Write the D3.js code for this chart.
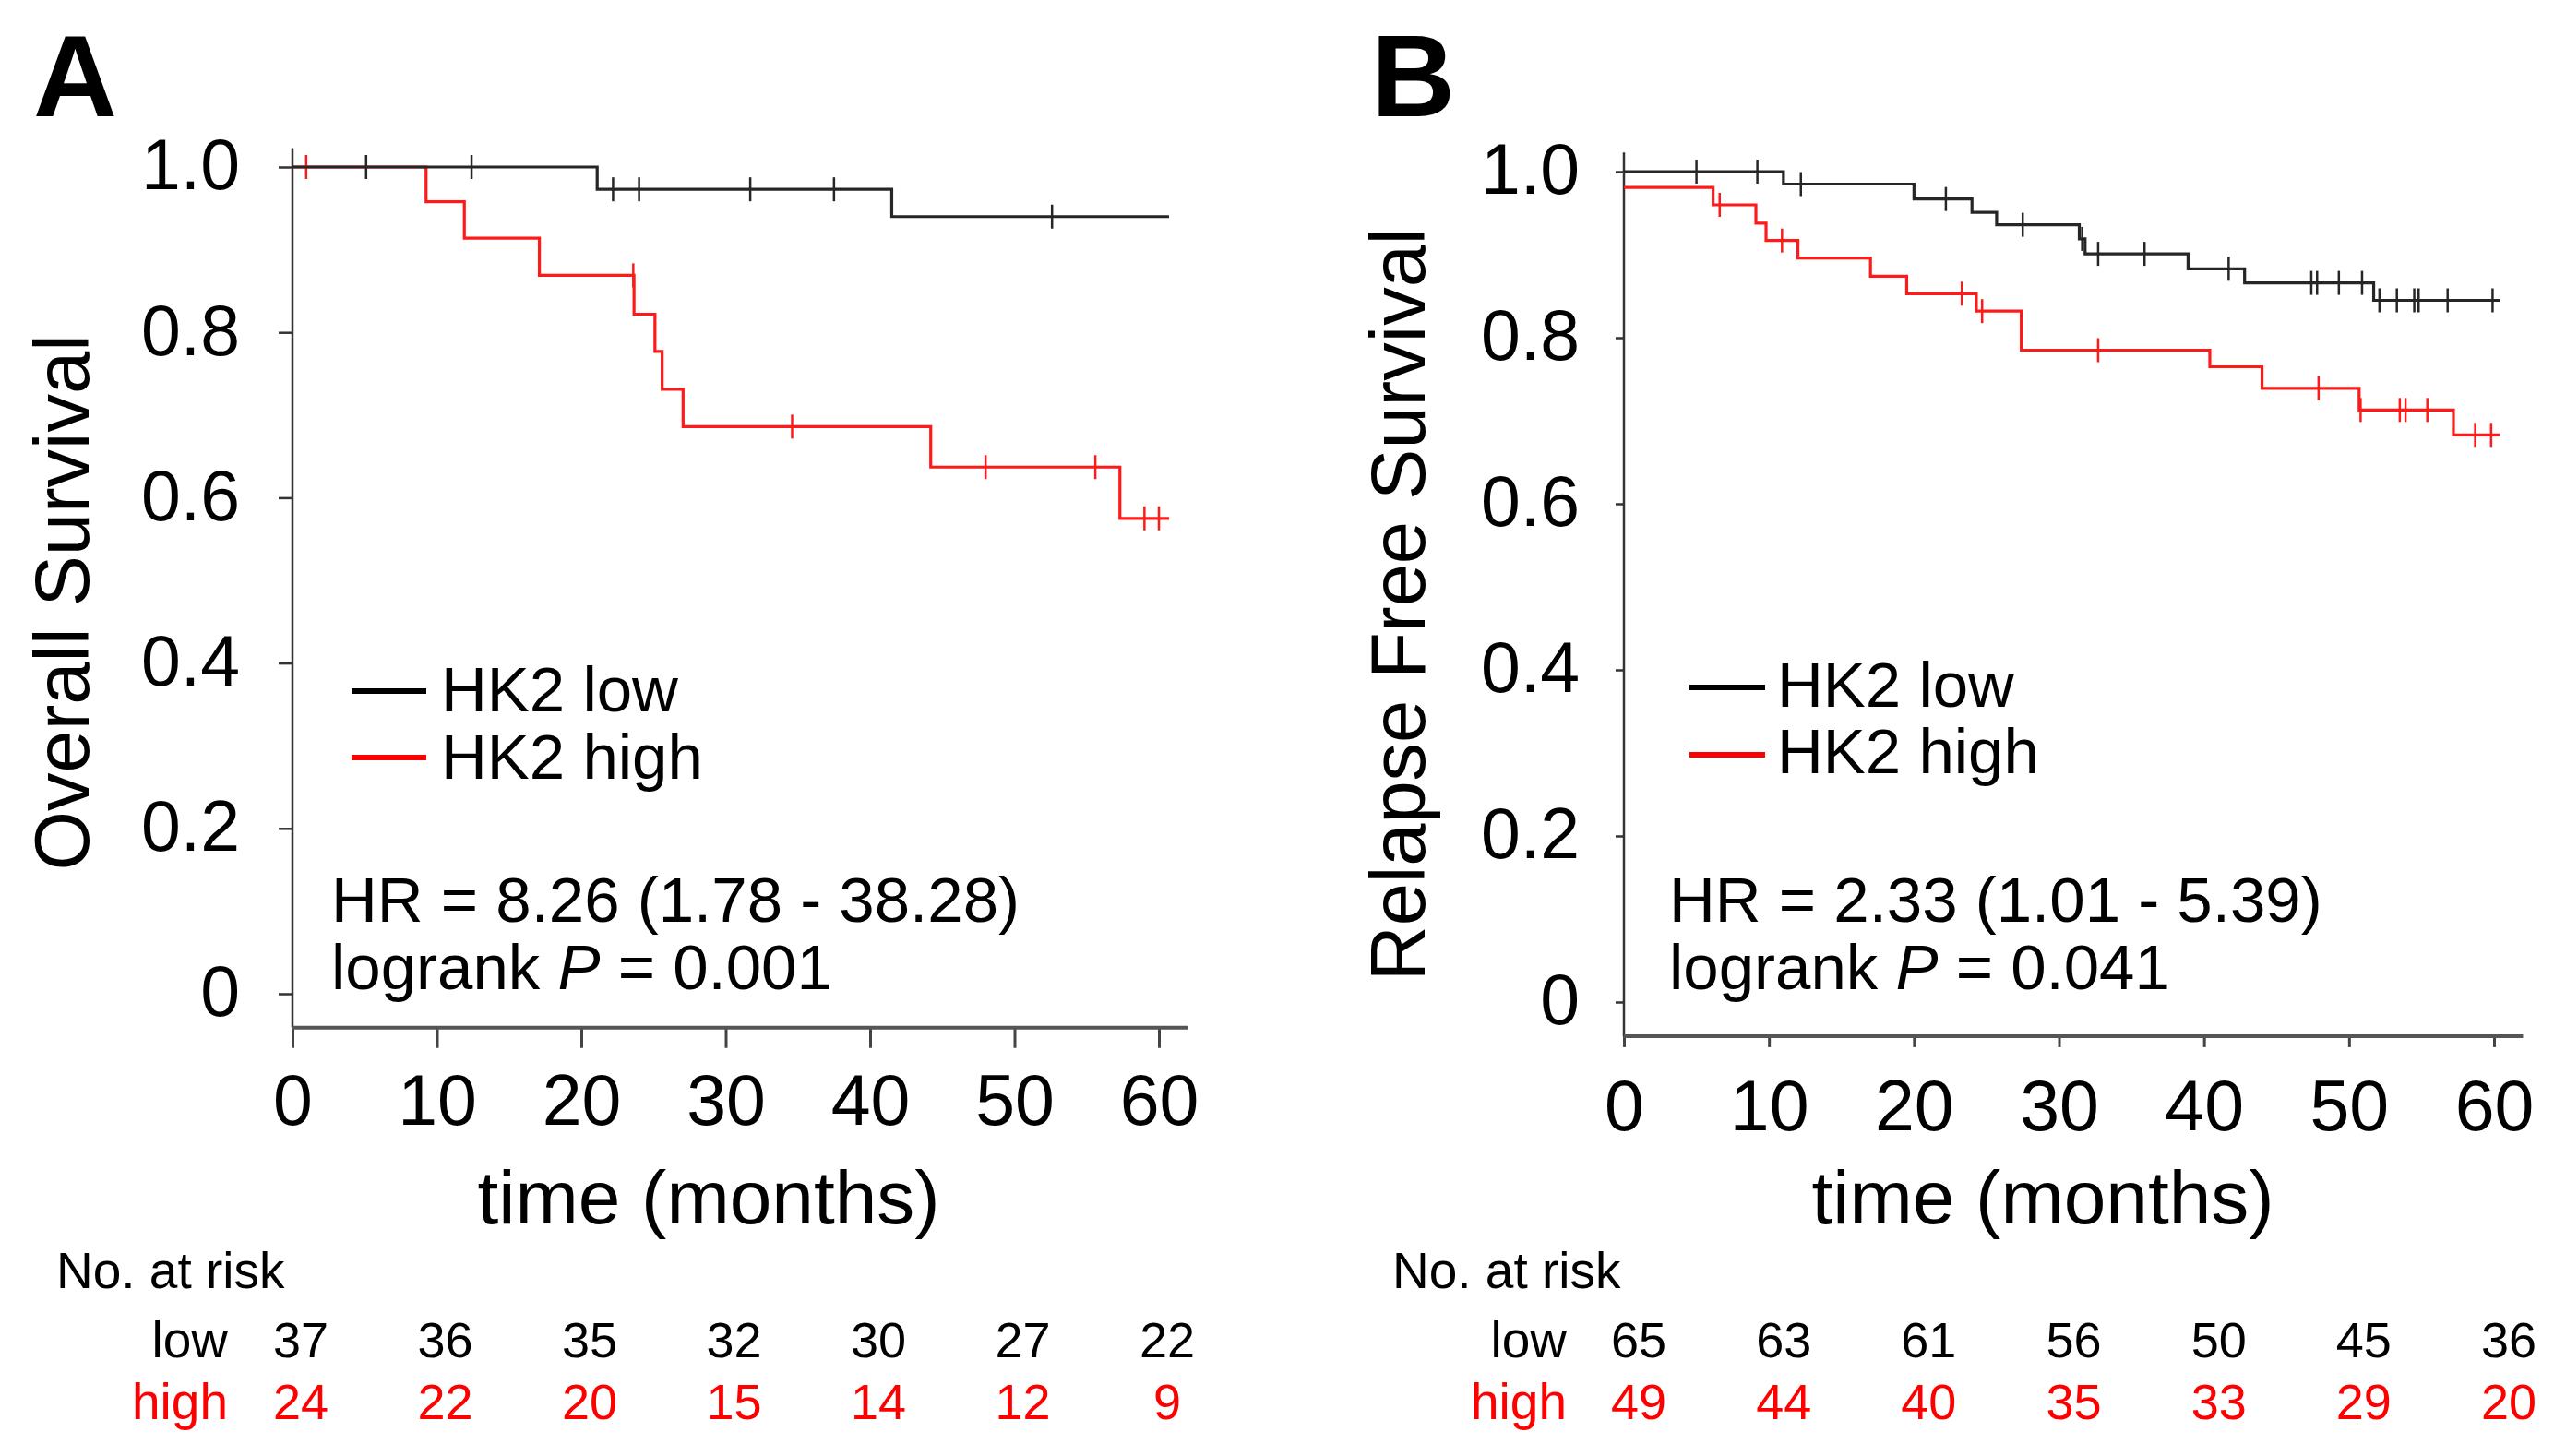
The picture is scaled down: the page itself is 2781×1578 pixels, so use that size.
<!DOCTYPE html>
<html><head><meta charset="utf-8">
<script src="https://cdn.jsdelivr.net/npm/d3@7"></script>
<style>
html,body{margin:0;padding:0;background:#fff;}
svg{display:block;}
text{font-family:"Liberation Sans",Arial,sans-serif;}
</style>
</head><body>
<svg id="chart" width="2781" height="1578"></svg>
<script>
// ---------- data ----------
const timeTicks = [0, 10, 20, 30, 40, 50, 60];
const survTicks = [0, 0.2, 0.4, 0.6, 0.8, 1.0];
const survTickLabels = ["0", "0.2", "0.4", "0.6", "0.8", "1.0"];
const riskTimes = [0, 10, 20, 30, 40, 50, 60];
const seriesNames = ["HK2 low", "HK2 high"];
const riskRowLabels = ["low", "high"];

// Panel A: Overall Survival
const osLowStepTimes = [0, 21.1, 41.5];
const osLowStepSurv  = [1, 0.973, 0.940];
const osLowCensor    = [5.1, 12.4, 22.2, 24.0, 31.7, 37.5, 52.6];
const osLowEnd = 60.7;
const osHighStepTimes = [0, 9.25, 11.9, 17.1, 23.65, 25.1, 25.6, 27.05, 44.2, 57.3];
const osHighStepSurv  = [1, 0.958, 0.914, 0.869, 0.822, 0.777, 0.731, 0.686, 0.637, 0.575];
const osHighCensor    = [0.95, 23.6, 34.6, 48.0, 55.6, 59.0, 60.0];
const osHighEnd = 60.7;
const osRiskLow  = [37, 36, 35, 32, 30, 27, 22];
const osRiskHigh = [24, 22, 20, 15, 14, 12, 9];
const osStats = ["HR = 8.26 (1.78 - 38.28)", "0.001"];

// Panel B: Relapse Free Survival
const rfsLowStepTimes = [0, 11.0, 20.0, 24.0, 25.7, 31.4, 31.8, 38.9, 42.8, 51.7];
const rfsLowStepSurv  = [1, 0.985, 0.967, 0.951, 0.936, 0.919, 0.901, 0.883, 0.866, 0.845];
const rfsLowCensor    = [5.0, 9.2, 12.2, 22.2, 27.5, 31.6, 32.7, 35.9, 41.7, 47.4, 47.8, 49.3, 50.9, 52.1, 53.3, 54.5, 54.8, 56.8, 59.9];
const rfsLowEnd = 60.4;
const rfsHighStepTimes = [0, 6.15, 9.1, 9.8, 12.0, 17.0, 19.5, 24.3, 27.4, 40.4, 44.0, 50.7, 57.2];
const rfsHighStepSurv  = [0.981, 0.960, 0.938, 0.917, 0.896, 0.874, 0.853, 0.832, 0.785, 0.765, 0.739, 0.713, 0.683];
const rfsHighCensor    = [6.6, 10.9, 23.3, 24.7, 32.7, 47.9, 50.8, 53.5, 53.9, 55.4, 58.7, 59.8];
const rfsHighEnd = 60.4;
const rfsRiskLow  = [65, 63, 61, 56, 50, 45, 36];
const rfsRiskHigh = [49, 44, 40, 35, 33, 29, 20];
const rfsStats = ["HR = 2.33 (1.01 - 5.39)", "0.041"];

// ---------- layout ----------
const svg = d3.select("#chart");
svg.append("rect").attr("width", 2781).attr("height", 1578).attr("fill", "#fff");

const COL_LOW = "#262626", COL_HIGH = "#ff1a1a";
const FONT = '"Liberation Sans", Arial, sans-serif';

const panels = [
  { letter: "A", letterX: 36, ytitle: "Overall Survival", ytitleX: 96, ytitleY: 653,
    xr: [317, 1256], yr: [1077, 181], xTick: 22, yTick: 15, yPad: 42, xLabelY: 105,
    xtitleX: 768, legLine: [381, 462], legText: 478, legY: [749, 821], legBase: [771, 844],
    statX: 359, riskTitleX: 61, riskLabelX: 247, riskShift: 9,
    low: [osLowStepTimes, osLowStepSurv, osLowCensor, osLowEnd],
    high: [osHighStepTimes, osHighStepSurv, osHighCensor, osHighEnd],
    riskLow: osRiskLow, riskHigh: osRiskHigh, stats: osStats },
  { letter: "B", letterX: 1486, ytitle: "Relapse Free Survival", ytitleX: 1544, ytitleY: 655,
    xr: [1760, 2703], yr: [1086, 186], xTick: 12, yTick: 9, yPad: 39, xLabelY: 102,
    xtitleX: 2214, legLine: [1831, 1913], legText: 1926, legY: [745, 818], legBase: [766, 838],
    statX: 1809, riskTitleX: 1509, riskLabelX: 1698, riskShift: 16,
    low: [rfsLowStepTimes, rfsLowStepSurv, rfsLowCensor, rfsLowEnd],
    high: [rfsHighStepTimes, rfsHighStepSurv, rfsHighCensor, rfsHighEnd],
    riskLow: rfsRiskLow, riskHigh: rfsRiskHigh, stats: rfsStats }
];

function survAt(times, surv, t) {
  let s = surv[0];
  for (let i = 0; i < times.length; i++) if (times[i] <= t) s = surv[i];
  return s;
}

panels.forEach(p => {
  const g = svg.append("g");
  const x = d3.scaleLinear().domain([0, 60]).range(p.xr);
  const y = d3.scaleLinear().domain([0, 1]).range(p.yr);
  const axisLevel = -0.041, yTop = 1.023, xRight = 62;

  // panel letter
  g.append("text").attr("x", p.letterX).attr("y", 126)
    .attr("font-size", 126).attr("font-weight", "bold").text(p.letter);

  // y axis
  const ya = g.append("g").attr("transform", `translate(${x(0)},0)`)
    .call(d3.axisLeft(y).tickValues(survTicks).tickFormat((d, i) => survTickLabels[i])
      .tickSize(p.yTick).tickPadding(p.yPad));
  ya.select(".domain").remove();
  ya.selectAll(".tick line").attr("stroke", "#333").attr("stroke-width", 2.5);
  ya.selectAll(".tick text").attr("font-size", 77).attr("font-family", FONT).attr("fill", "#000").attr("dy", "0.31em");
  g.append("line").attr("x1", x(0)).attr("x2", x(0)).attr("y1", y(yTop)).attr("y2", y(axisLevel))
    .attr("stroke", "#333").attr("stroke-width", 2.5);

  // x axis
  const xa = g.append("g").attr("transform", `translate(0,${y(axisLevel)})`)
    .call(d3.axisBottom(x).tickValues(timeTicks).tickSize(p.xTick));
  xa.select(".domain").remove();
  xa.selectAll(".tick line").attr("stroke", "#444").attr("stroke-width", 3);
  xa.selectAll(".tick text").attr("font-size", 77).attr("font-family", FONT).attr("fill", "#000")
    .attr("dy", null).attr("y", p.xLabelY);
  g.append("line").attr("x1", x(0)).attr("x2", x(xRight)).attr("y1", y(axisLevel)).attr("y2", y(axisLevel))
    .attr("stroke", "#555").attr("stroke-width", 4);

  // curves
  const line = d3.line().x(d => x(d[0])).y(d => y(d[1])).curve(d3.curveStepAfter);
  [[p.high, COL_HIGH], [p.low, COL_LOW]].forEach(([ser, col]) => {
    const [times, surv, cens, end] = ser;
    const pts = times.map((t, i) => [t, surv[i]]);
    pts.push([end, surv[surv.length - 1]]);
    g.append("path").attr("d", line(pts)).attr("fill", "none")
      .attr("stroke", col).attr("stroke-width", 3.2);
    g.selectAll(null).data(cens).enter().append("line")
      .attr("x1", d => x(d)).attr("x2", d => x(d))
      .attr("y1", d => y(survAt(times, surv, d)) - 13)
      .attr("y2", d => y(survAt(times, surv, d)) + 13)
      .attr("stroke", col).attr("stroke-width", 2.5);
  });

  // legend
  [COL_LOW, COL_HIGH].forEach((col, i) => {
    g.append("line").attr("x1", p.legLine[0]).attr("x2", p.legLine[1])
      .attr("y1", p.legY[i]).attr("y2", p.legY[i])
      .attr("stroke", i === 0 ? "#000" : "#ff0000").attr("stroke-width", 6);
    g.append("text").attr("x", p.legText).attr("y", p.legBase[i])
      .attr("font-size", 69).text(seriesNames[i]);
  });

  // stats
  g.append("text").attr("x", p.statX).attr("y", 999).attr("font-size", 69).text(p.stats[0]);
  const t2 = g.append("text").attr("x", p.statX).attr("y", 1072).attr("font-size", 69);
  t2.append("tspan").text("logrank ");
  t2.append("tspan").attr("font-style", "italic").text("P");
  t2.append("tspan").text(" = " + p.stats[1]);

  // x title
  g.append("text").attr("x", p.xtitleX).attr("y", 1326).attr("text-anchor", "middle")
    .attr("font-size", 82).text("time (months)");

  // y title
  g.append("text").attr("transform", `translate(${p.ytitleX},${p.ytitleY}) rotate(-90)`)
    .attr("text-anchor", "middle").attr("font-size", 83).text(p.ytitle);

  // number at risk
  g.append("text").attr("x", p.riskTitleX).attr("y", 1396).attr("font-size", 55).text("No. at risk");
  [[p.riskLow, "#000", 1471], [p.riskHigh, "#ff0000", 1538]].forEach(([vals, col, by], i) => {
    g.append("text").attr("x", p.riskLabelX).attr("y", by).attr("text-anchor", "end")
      .attr("font-size", 55).attr("fill", col).text(riskRowLabels[i]);
    g.selectAll(null).data(vals).enter().append("text")
      .attr("x", (d, j) => x(riskTimes[j]) + p.riskShift).attr("y", by)
      .attr("text-anchor", "middle")
      .attr("font-size", 54).attr("fill", col).text(d => d);
  });
});
</script>
</body></html>
